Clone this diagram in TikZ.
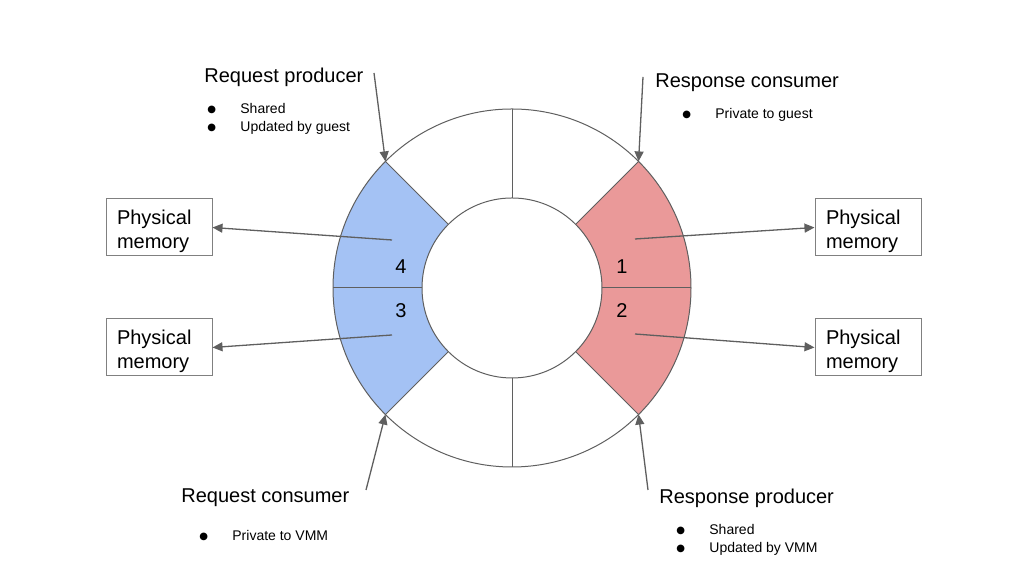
\documentclass[tikz,border=0pt]{standalone}
\usepackage{fontspec}
\setmainfont{Liberation Sans}
\newfontfamily\dotfont{DejaVu Sans}
\usetikzlibrary{arrows.meta}
\definecolor{reqblue}{HTML}{A4C2F4}
\definecolor{resred}{HTML}{EA9999}
\definecolor{edgegray}{HTML}{5F5F5F}
\definecolor{boxgray}{HTML}{808080}
\newcommand{\bul}{\makebox[16.5pt][l]{\raisebox{0.6pt}{\dotfont\fontsize{5pt}{6pt}\selectfont ●}}}

\begin{document}
\begin{tikzpicture}[x=0.5pt,y=0.5pt,
  head/.style={font=\fontsize{10}{12}\selectfont, anchor=base west},
  notes/.style={font=\fontsize{7}{9}\selectfont, align=left, anchor=west},
  mem/.style={draw=boxgray, line width=0.5pt, text width=42pt, align=left,
    minimum height=28.5pt, inner xsep=5.5pt, font=\fontsize{10}{12}\selectfont,
    text height=10.8pt},
  ptr/.style={edgegray, line width=0.65pt, -{Triangle[length=5pt,width=4.5pt]}}]
\tikzstyle{every node}+=[inner sep=0pt]
\useasboundingbox (0,0) rectangle (1024,576);
\coordinate (ctr) at (512,288);
\coordinate (o45) at ([shift={(45:179)}]ctr);
\coordinate (o135) at ([shift={(135:179)}]ctr);
\coordinate (o225) at ([shift={(225:179)}]ctr);
\coordinate (o315) at ([shift={(315:179)}]ctr);
% request slots and response slots
\fill [reqblue] (o135) arc (135:225:179) -- ([shift={(225:90)}]ctr) arc (225:135:90) -- cycle;
\fill [resred] (o315) arc (-45:45:179) -- ([shift={(45:90)}]ctr) arc (45:-45:90) -- cycle;
\draw [edgegray, line width=0.5pt] (ctr) circle (179);
\draw [edgegray, line width=0.5pt] (ctr) circle (90);
\draw [edgegray, line width=0.5pt] ([shift={(0:90)}]ctr) -- ([shift={(0:179)}]ctr);
\draw [edgegray, line width=0.5pt] ([shift={(45:90)}]ctr) -- (o45);
\draw [edgegray, line width=0.5pt] ([shift={(90:90)}]ctr) -- ([shift={(90:179)}]ctr);
\draw [edgegray, line width=0.5pt] ([shift={(135:90)}]ctr) -- (o135);
\draw [edgegray, line width=0.5pt] ([shift={(180:90)}]ctr) -- ([shift={(180:179)}]ctr);
\draw [edgegray, line width=0.5pt] ([shift={(225:90)}]ctr) -- (o225);
\draw [edgegray, line width=0.5pt] ([shift={(270:90)}]ctr) -- ([shift={(270:179)}]ctr);
\draw [edgegray, line width=0.5pt] ([shift={(315:90)}]ctr) -- (o315);
% slot numbers
\node [font=\fontsize{10}{12}\selectfont] (n1) at (622,309.5) {1};
\node [font=\fontsize{10}{12}\selectfont] (n2) at (622,265.5) {2};
\node [font=\fontsize{10}{12}\selectfont] (n3) at (401,265.5) {3};
\node [font=\fontsize{10}{12}\selectfont] (n4) at (401,309.5) {4};
% physical memory boxes
\node [mem] (pm4) at (159,348.5) {Physical\\memory};
\node [mem] (pm3) at (159,228.5) {Physical\\memory};
\node [mem] (pm1) at (868,348.5) {Physical\\memory};
\node [mem] (pm2) at (868,228.5) {Physical\\memory};
\coordinate (t4) at (392,336);
\coordinate (t3) at (392,241);
\coordinate (t1) at (635,337);
\coordinate (t2) at (635,242);
\draw [ptr] (t4) -- (pm4.east);
\draw [ptr] (t3) -- (pm3.east);
\draw [ptr] (t1) -- (pm1.west);
\draw [ptr] (t2) -- (pm2.west);
% producer / consumer labels
\node [head] (rqp) at (204,493) {Request producer};
\node [notes] (rqpn) at (207,457) {\bul Shared\\\bul Updated by guest};
\node [head] (rsc) at (655,488) {Response consumer};
\node [head, font=\fontsize{7}{9}\selectfont] (rscn) at (682,457) {\bul Private to guest};
\node [head] (rqc) at (181,73) {Request consumer};
\node [head, font=\fontsize{7}{9}\selectfont] (rqcn) at (199,35) {\bul Private to VMM};
\node [head] (rsp) at (659,72) {Response producer};
\node [notes] (rspn) at (676,36) {\bul Shared\\\bul Updated by VMM};
\coordinate (s1) at (374,503);
\coordinate (s2) at (643,499);
\coordinate (s3) at (366,86);
\coordinate (s4) at (648,86);
\draw [ptr] (s1) -- (o135);
\draw [ptr] (s2) -- (o45);
\draw [ptr] (s3) -- (o225);
\draw [ptr] (s4) -- (o315);
\end{tikzpicture}
\end{document}
